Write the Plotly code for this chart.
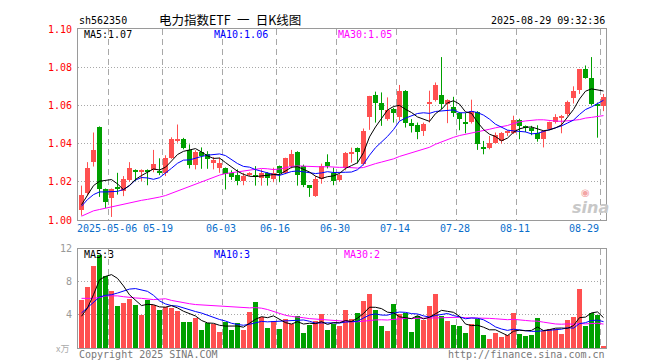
import plotly.graph_objects as go

# ---------------- data ----------------
opens = [1.0054, 1.0142, 1.0303, 1.0488, 1.0160, 1.0116, 1.0172, 1.0154, 1.0212, 1.0263,
         1.0253, 1.0261, 1.0261, 1.0253, 1.0247, 1.0326, 1.0414, 1.0423, 1.0367, 1.0288,
         1.0356, 1.0347, 1.0300, 1.0274, 1.0270, 1.0247, 1.0235, 1.0203, 1.0235, 1.0235,
         1.0218, 1.0247, 1.0216, 1.0282, 1.0247, 1.0282, 1.0356, 1.0282, 1.0182, 1.0125,
         1.0216, 1.0303, 1.0247, 1.0212, 1.0274, 1.0349, 1.0375, 1.0291, 1.0537, 1.0656,
         1.0610, 1.0528, 1.0580, 1.0537, 1.0677, 1.0507, 1.0498, 1.0467, 1.0612, 1.0630,
         1.0656, 1.0607, 1.0590, 1.0560, 1.0512, 1.0514, 1.0567, 1.0384, 1.0379, 1.0405,
         1.0414, 1.0458, 1.0458, 1.0524, 1.0490, 1.0484, 1.0454, 1.0423, 1.0479, 1.0514,
         1.0537, 1.0554, 1.0637, 1.0682, 1.0788, 1.0742, 1.0607, 1.0598]
highs = [1.0180, 1.0303, 1.0458, 1.0490, 1.0165, 1.0165, 1.0247, 1.0230, 1.0303, 1.0265,
         1.0265, 1.0265, 1.0367, 1.0323, 1.0339, 1.0433, 1.0500, 1.0430, 1.0396, 1.0365,
         1.0380, 1.0360, 1.0330, 1.0326, 1.0275, 1.0260, 1.0265, 1.0247, 1.0250, 1.0282,
         1.0265, 1.0250, 1.0274, 1.0285, 1.0326, 1.0367, 1.0360, 1.0290, 1.0182, 1.0230,
         1.0295, 1.0344, 1.0274, 1.0240, 1.0356, 1.0379, 1.0380, 1.0479, 1.0650, 1.0672,
         1.0668, 1.0642, 1.0588, 1.0707, 1.0680, 1.0528, 1.0510, 1.0510, 1.0677, 1.0720,
         1.0853, 1.0632, 1.0645, 1.0565, 1.0560, 1.0630, 1.0570, 1.0414, 1.0440, 1.0458,
         1.0460, 1.0470, 1.0546, 1.0530, 1.0495, 1.0493, 1.0496, 1.0470, 1.0515, 1.0554,
         1.0550, 1.0625, 1.0700, 1.0790, 1.0809, 1.0853, 1.0615, 1.0660]
lows = [1.0023, 1.0130, 1.0280, 1.0121, 1.0063, 1.0016, 1.0133, 1.0125, 1.0200, 1.0204,
        1.0204, 1.0182, 1.0250, 1.0235, 1.0230, 1.0320, 1.0405, 1.0370, 1.0270, 1.0265,
        1.0268, 1.0268, 1.0265, 1.0247, 1.0160, 1.0210, 1.0182, 1.0182, 1.0230, 1.0180,
        1.0180, 1.0180, 1.0198, 1.0198, 1.0240, 1.0270, 1.0180, 1.0172, 1.0121, 1.0121,
        1.0190, 1.0270, 1.0182, 1.0200, 1.0260, 1.0300, 1.0296, 1.0285, 1.0472, 1.0510,
        1.0493, 1.0520, 1.0510, 1.0520, 1.0484, 1.0458, 1.0423, 1.0440, 1.0510, 1.0620,
        1.0580, 1.0507, 1.0540, 1.0470, 1.0454, 1.0505, 1.0367, 1.0344, 1.0370, 1.0400,
        1.0400, 1.0440, 1.0450, 1.0423, 1.0460, 1.0444, 1.0410, 1.0380, 1.0470, 1.0505,
        1.0454, 1.0545, 1.0610, 1.0660, 1.0740, 1.0600, 1.0431, 1.0570]
closes = [1.0130, 1.0274, 1.0367, 1.0163, 1.0095, 1.0160, 1.0160, 1.0216, 1.0274, 1.0253,
          1.0261, 1.0253, 1.0295, 1.0247, 1.0326, 1.0423, 1.0423, 1.0379, 1.0286, 1.0358,
          1.0335, 1.0321, 1.0312, 1.0296, 1.0239, 1.0226, 1.0203, 1.0230, 1.0247, 1.0230,
          1.0247, 1.0218, 1.0247, 1.0247, 1.0323, 1.0344, 1.0235, 1.0182, 1.0172, 1.0216,
          1.0282, 1.0282, 1.0203, 1.0235, 1.0349, 1.0356, 1.0356, 1.0467, 1.0647, 1.0610,
          1.0577, 1.0577, 1.0560, 1.0677, 1.0507, 1.0493, 1.0461, 1.0505, 1.0616, 1.0709,
          1.0607, 1.0630, 1.0560, 1.0528, 1.0505, 1.0570, 1.0396, 1.0370, 1.0405, 1.0444,
          1.0458, 1.0467, 1.0524, 1.0493, 1.0484, 1.0467, 1.0426, 1.0467, 1.0514, 1.0537,
          1.0546, 1.0619, 1.0677, 1.0788, 1.0742, 1.0607, 1.0598, 1.0642]
volumes = [5.84, 7.36, 10.0, 11.3, 8.76, 6.92, 5.08, 5.44, 5.92, 5.2,
           4.0, 5.84, 5.2, 4.6, 5.04, 4.92, 4.48, 3.16, 3.16, 3.64,
           2.2, 3.0, 2.92, 1.96, 3.16, 2.2, 3.04, 2.2, 4.36, 5.56,
           3.76, 2.44, 3.28, 2.32, 3.52, 2.92, 3.88, 1.84, 2.8, 3.28,
           4.12, 2.2, 2.92, 2.72, 4.64, 3.52, 4.24, 5.72, 6.52, 4.6,
           2.72, 2.08, 5.32, 4.12, 4.24, 1.96, 3.88, 3.4, 5.08, 6.52,
           3.88, 3.28, 2.8, 2.68, 1.84, 2.92, 3.52, 1.6, 1.12, 1.84,
           1.36, 1.6, 4.24, 1.72, 1.48, 1.6, 3.64, 2.08, 2.32, 2.32,
           1.72, 3.4, 3.76, 7.12, 2.68, 4.24, 4.0, 0.32]

# moving-average values at the start of the window (history before the window)
ma5_head = [1.0080, 1.0133, 1.0180, 1.0203]
ma10_head = [1.0072, 1.0107, 1.0133, 1.0147, 1.0147, 1.0147, 1.0150, 1.0160, 1.0180]
ma30_head = [1.0020, 1.0035, 1.0048, 1.0055, 1.0062, 1.0070, 1.0078, 1.0085, 1.0092, 1.0098,
             1.0103, 1.0108, 1.0113, 1.0120, 1.0128, 1.0140, 1.0155, 1.0165, 1.0178, 1.0190,
             1.0200, 1.0212, 1.0225, 1.0235, 1.0243, 1.0248, 1.0253, 1.0257, 1.0260]
vma5_head = [3.84, 4.84, 6.44, 8.24]
vma10_head = [4.24, 4.9, 5.6, 6.16, 6.36, 6.44, 6.64, 6.92, 7.12]
vma30_head = [6.0, 6.0, 6.0, 6.1, 6.3, 6.3, 6.3, 6.2, 6.1, 6.05,
              6.0, 5.9, 5.85, 5.9, 5.95, 5.75, 5.6, 5.45, 5.35, 5.25,
              5.2, 5.15, 5.1, 5.05, 5.0, 4.95, 4.9, 4.9, 4.85]

tick_bars = [5, 14, 24, 33, 43, 53, 63, 73, 87]
tick_labels = ["2025-05-06", "05-19", "06-03", "06-16", "06-30", "07-14", "07-28", "08-11", "08-29"]
price_ticks = [1.00, 1.02, 1.04, 1.06, 1.08, 1.10]
volume_ticks = [4, 8, 12]

# ---------------- derived ----------------
n = len(closes)
xs = list(range(n))


def moving_average(values, period, head):
    out = []
    for i in range(n):
        if i < period - 1:
            out.append(head[i])
        else:
            out.append(sum(values[i - period + 1:i + 1]) / period)
    return out


ma5 = moving_average(closes, 5, ma5_head)
ma10 = moving_average(closes, 10, ma10_head)
ma30 = moving_average(closes, 30, ma30_head)
vma5 = moving_average(volumes, 5, vma5_head)
vma10 = moving_average(volumes, 10, vma10_head)
vma30 = moving_average(volumes, 30, vma30_head)

RED = "#ff5050"
GREEN = "#00a000"
up = [c >= o for o, c in zip(opens, closes)]
colors = [RED if u else GREEN for u in up]

fig = go.Figure()

# candle bodies
fig.add_trace(go.Bar(
    x=xs,
    y=[max(abs(c - o), 0.0005) for o, c in zip(opens, closes)],
    base=[min(o, c) for o, c in zip(opens, closes)],
    width=5 / 6, marker=dict(color=colors, line=dict(width=0)),
    xaxis="x", yaxis="y", hoverinfo="skip", showlegend=False))

# wicks
for flag, col in ((True, RED), (False, GREEN)):
    wx, wy = [], []
    for i in range(n):
        if up[i] == flag:
            wx += [i, i, None]
            wy += [lows[i], highs[i], None]
    fig.add_trace(go.Scatter(x=wx, y=wy, mode="lines", line=dict(color=col, width=1),
                             xaxis="x", yaxis="y", hoverinfo="skip", showlegend=False))

# volume bars
fig.add_trace(go.Bar(x=xs, y=volumes, width=5 / 6, marker=dict(color=colors, line=dict(width=0)),
                     xaxis="x2", yaxis="y2", hoverinfo="skip", showlegend=False))

# moving averages
for series, col, ax in ((ma30, "#ff00ff", "y"), (ma10, "#0000ff", "y"), (ma5, "#000000", "y"),
                        (vma30, "#ff00ff", "y2"), (vma10, "#0000ff", "y2"), (vma5, "#000000", "y2")):
    fig.add_trace(go.Scatter(x=xs, y=series, mode="lines", line=dict(color=col, width=1),
                             xaxis="x" if ax == "y" else "x2", yaxis=ax,
                             hoverinfo="skip", showlegend=False))

# ---------------- layout ----------------
W, H = 660, 360
ML, MR, MT, MB = 70, 62, 21, 20
PW, PH = W - ML - MR, H - MT - MB
MAIN_BOTTOM, VOL_TOP = 212, 240.7
MONO = "DejaVu Sans Mono"


def px(xp):
    return (xp - ML) / PW


def py(yp):
    return (H - MB - yp) / PH


shift = 1 / 12
grid_x = [b - 0.5 for b in tick_bars]
xcommon = dict(range=[-0.5 - shift, n - 0.5 - shift], tickvals=grid_x, showticklabels=False,
               showgrid=True, gridcolor="#a8a8a8", griddash="6px,4px", gridwidth=1,
               showline=True, mirror=True, linecolor="#9a9a9a", linewidth=1,
               zeroline=False, ticks="", fixedrange=True)

fig.update_layout(
    width=W, height=H, margin=dict(l=ML, r=MR, t=MT, b=MB, pad=0),
    paper_bgcolor="white", plot_bgcolor="white", barmode="overlay", bargap=0,
    showlegend=False,
    xaxis=dict(domain=[0, 1], anchor="y", **xcommon),
    xaxis2=dict(domain=[0, 1], anchor="y2", matches="x", **xcommon),
    yaxis=dict(domain=[py(MAIN_BOTTOM), 1], anchor="x", range=[price_ticks[0], price_ticks[-1]],
               tickvals=price_ticks, ticktext=["%.2f" % v for v in price_ticks],
               tickfont=dict(family=MONO, size=10, color="#ff0000"),
               showgrid=True, gridcolor="#a8a8a8", griddash="1px,2px",
               showline=True, mirror=True, linecolor="#9a9a9a", linewidth=1,
               zeroline=False, ticks="", ticklabelstandoff=3),
    yaxis2=dict(domain=[0, py(VOL_TOP)], anchor="x2", range=[0, 12],
                tickvals=volume_ticks, ticktext=[str(v) for v in volume_ticks],
                tickfont=dict(family=MONO, size=10, color="#999999"),
                showgrid=True, gridcolor="#a8a8a8", griddash="1px,2px",
                showline=True, mirror=True, linecolor="#9a9a9a", linewidth=1,
                zeroline=False, ticks="", ticklabelstandoff=3),
)

ann = []


def text(xp, yp, s, color="#000000", size=10, anchor="left", family=MONO, **kw):
    ann.append(dict(x=px(xp), y=py(yp), xref="paper", yref="paper", text=s, showarrow=False,
                    xanchor=anchor, yanchor="middle", borderpad=0,
                    font=dict(family=family, size=size, color=color, **kw)))


# header
text(70, 12.5, "sh562350")
text(222, 11, "电力指数ETF\u2002一\u2002日K线图", size=12.5, anchor="center", family="Noto Sans CJK SC")
text(598, 12.5, "2025-08-29 09:32:36", anchor="right")

# MA labels
text(75, 27, "MA5:1.07", color="#000000")
text(205, 27, "MA10:1.06", color="#0000ff")
text(329, 27, "MA30:1.05", color="#ff00ff")
text(75, 246.5, "MA5:3", color="#000000")
text(205, 246.5, "MA10:3", color="#0000ff")
text(335, 246.5, "MA30:2", color="#ff00ff")

# date labels on the x scale
label_shift = [-1, -4, -1, -1, -1, -1, -1, -1, -16]
for b, lab, sh in zip(tick_bars, tick_labels, label_shift):
    ann.append(dict(x=b - 0.5 - shift, y=py(221), xref="x", yref="paper", text=lab, showarrow=False,
                    xanchor="center", yanchor="middle", xshift=sh, borderpad=0,
                    font=dict(family=MONO, size=10, color="#0a6ecb")))

# footer
text(70, 346, "Copyright 2025 SINA.COM", color="#777777")
text(598, 346, "http://finance.sina.com.cn", color="#777777", anchor="right")
text(47, 340, "x万", color="#aaaaaa", size=9, family="Noto Sans CJK SC")

# sina watermark
text(577, 184, "◉", color="#f3a5a5", size=10, anchor="center", family="DejaVu Sans")
text(582, 200, "sina", color="#c8c8c8", size=16, anchor="center", family="DejaVu Sans",
     style="italic", weight="bold")

fig.update_layout(annotations=ann)
fig.write_html("out.html")
